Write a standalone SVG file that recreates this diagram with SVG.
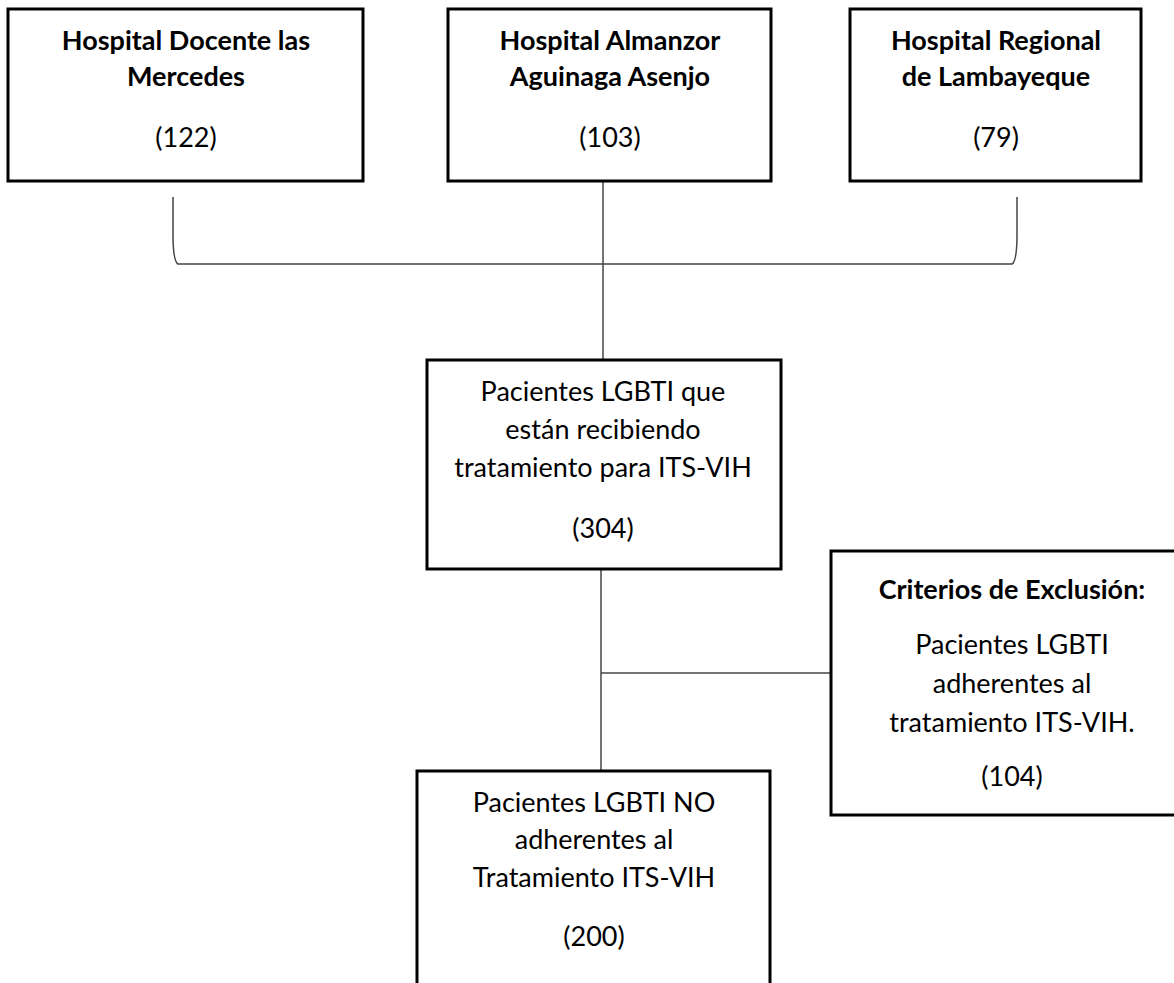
<svg xmlns="http://www.w3.org/2000/svg" width="1174" height="983" viewBox="0 0 1174 983">
<style>
.box{fill:#fff;stroke:#000;stroke-width:3}
.t{font-family:Lato,"Liberation Sans",sans-serif;font-size:27px;fill:#000;text-anchor:middle}
.b{font-weight:bold}
.c{fill:none;stroke:#444;stroke-width:1.5}
</style>
<rect width="1174" height="983" fill="#fff"/>
<g id="connectors">
<path class="c" d="M173,197 L173,238 Q173.5,262 178,264 L1012,264 Q1016.5,262 1017,238 L1017,197"/>
<line class="c" x1="603" y1="181" x2="603" y2="360"/>
<line class="c" x1="601" y1="569" x2="601" y2="771"/>
<line class="c" x1="601" y1="673" x2="831" y2="673"/>
</g>
<g id="n1">
<rect class="box" x="8" y="9" width="355" height="172"/>
<text class="t b" x="186" y="50">Hospital Docente las</text>
<text class="t b" x="186" y="86">Mercedes</text>
<text class="t" x="186" y="147">(122)</text>
</g>
<g id="n2">
<rect class="box" x="448" y="9" width="323" height="172"/>
<text class="t b" x="610" y="50">Hospital Almanzor</text>
<text class="t b" x="610" y="86">Aguinaga Asenjo</text>
<text class="t" x="610" y="147">(103)</text>
</g>
<g id="n3">
<rect class="box" x="850" y="9" width="291" height="172"/>
<text class="t b" x="996" y="50">Hospital Regional</text>
<text class="t b" x="996" y="86">de Lambayeque</text>
<text class="t" x="996" y="147">(79)</text>
</g>
<g id="n4">
<rect class="box" x="427" y="360" width="354" height="209"/>
<text class="t" x="603" y="401">Pacientes LGBTI que</text>
<text class="t" x="603" y="439">están recibiendo</text>
<text class="t" x="603" y="477">tratamiento para ITS-VIH</text>
<text class="t" x="603" y="538">(304)</text>
</g>
<g id="n5">
<rect class="box" x="831" y="551" width="380" height="264"/>
<text class="t b" x="1012" y="599">Criterios de Exclusión:</text>
<text class="t" x="1012" y="654">Pacientes LGBTI</text>
<text class="t" x="1012" y="693">adherentes al</text>
<text class="t" x="1012" y="732">tratamiento ITS-VIH.</text>
<text class="t" x="1012" y="786">(104)</text>
</g>
<g id="n6">
<rect class="box" x="417" y="771" width="353" height="240"/>
<text class="t" x="594" y="812">Pacientes LGBTI NO</text>
<text class="t" x="594" y="849">adherentes al</text>
<text class="t" x="594" y="887">Tratamiento ITS-VIH</text>
<text class="t" x="594" y="946">(200)</text>
</g>
</svg>
